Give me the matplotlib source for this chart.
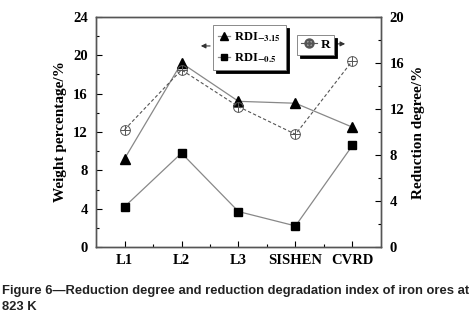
import numpy as np
import matplotlib
matplotlib.use("Agg")
import matplotlib.pyplot as plt
from matplotlib.lines import Line2D

ores = ["L1", "L2", "L3", "SISHEN", "CVRD"]
rdi_315 = [9.2, 19.2, 15.2, 15.0, 12.5]
rdi_05 = [4.2, 9.8, 3.7, 2.2, 10.6]
reduction = [10.2, 15.4, 12.2, 9.8, 16.2]

plt.rcParams["font.family"] = ["Liberation Serif", "DejaVu Serif"]
plt.rcParams["font.weight"] = "bold"
plt.rcParams["mathtext.fontset"] = "stix"

fig = plt.figure(figsize=(4.76, 3.2), dpi=100)
ax = fig.add_axes([0.2017, 0.228, 0.5987, 0.719])
ax2 = ax.twinx()

x = np.arange(1, len(ores) + 1)
grey = "#888888"
ax.plot(x, rdi_315, color=grey, lw=0.9, marker="^", ms=7, mfc="black", mec="black")
ax.plot(x, rdi_05, color=grey, lw=0.9, marker="s", ms=6, mfc="black", mec="black")
ax2.plot(x, reduction, color="#555555", lw=0.8, ls=(0, (3, 2)),
         marker="o", ms=7, mfc="none", mec="#555555", mew=0.7)
ax2.plot(x, reduction, ls="none", marker="+", ms=7, mec="#555555", mew=0.7)

ax.set_xlim(0.5, 5.5)
ax.set_ylim(0, 24)
ax2.set_ylim(0, 20)
ax.set_xticks(x)
ax.set_xticklabels(ores)
ax.set_xticks(np.arange(1.5, 5.5, 1), minor=True)
ax.set_yticks(np.arange(0, 25, 4))
ax.set_yticks(np.arange(2, 24, 4), minor=True)
ax2.set_yticks(np.arange(0, 21, 4))
ax2.set_yticks(np.arange(2, 20, 4), minor=True)

for a in (ax, ax2):
    a.tick_params(direction="in", labelsize=10.5, length=4, width=0.8)
    a.tick_params(which="minor", direction="in", length=2.5, width=0.8)
    for s in a.spines.values():
        s.set_color("#555555")
        s.set_linewidth(1.0)
ax.tick_params(axis="x", pad=5)
ax.tick_params(axis="y", pad=6)
ax2.tick_params(axis="y", pad=6)

ax.set_ylabel("Weight percentage/%", fontsize=11, fontweight="bold", labelpad=4)
ax2.set_ylabel("Reduction degree/%", fontsize=11, fontweight="bold", labelpad=6)

h1 = [Line2D([], [], color=grey, lw=0.9, marker="^", ms=6, mfc="black", mec="black"),
      Line2D([], [], color=grey, lw=0.9, marker="s", ms=5, mfc="black", mec="black")]
leg1 = ax.legend(h1, [r"RDI$_{\mathbf{-3.15}}$", r"RDI$_{\mathbf{-0.5}}$"],
                 loc="upper left", bbox_to_anchor=(0.41, 0.965), borderaxespad=0,
                 fontsize=9, handlelength=1.0, handletextpad=0.3, borderpad=0.4,
                 labelspacing=0.6, fancybox=False,
                 shadow={"color": "black", "alpha": 1}, framealpha=1)
leg1.get_frame().set_edgecolor("#777777")
leg1.get_frame().set_linewidth(0.6)

h2 = [Line2D([], [], color="#555555", lw=0.8, marker="$\\oplus$", ms=6.5,
             mfc="none", mec="#555555")]
leg2 = ax2.legend(h2, ["R"], loc="upper left", bbox_to_anchor=(0.705, 0.922),
                  borderaxespad=0, fontsize=9.5, handlelength=1.2,
                  handletextpad=0.3, borderpad=0.3, fancybox=False,
                  shadow={"color": "black", "alpha": 1}, framealpha=1)
leg2.get_frame().set_edgecolor("#777777")
leg2.get_frame().set_linewidth(0.6)

ax.annotate("", xy=(0.358, 0.874), xytext=(0.41, 0.874), xycoords="axes fraction",
            arrowprops=dict(arrowstyle="-|>", color="#333333", lw=0.8,
                            mutation_scale=7))
ax2.annotate("", xy=(0.884, 0.883), xytext=(0.822, 0.883), xycoords="axes fraction",
             arrowprops=dict(arrowstyle="-|>", color="#333333", lw=0.8,
                             mutation_scale=7))

fig.text(0.004, 0.091, "Figure 6\u2014Reduction degree and reduction degradation index of iron ores at",
         family=["Liberation Sans", "DejaVu Sans"], fontsize=9.4, fontweight="bold",
         color="#222222", va="center", ha="left")
fig.text(0.004, 0.041, "823 K",
         family=["Liberation Sans", "DejaVu Sans"], fontsize=9.4, fontweight="bold",
         color="#222222", va="center", ha="left")

fig.savefig("out.png", dpi=100)
